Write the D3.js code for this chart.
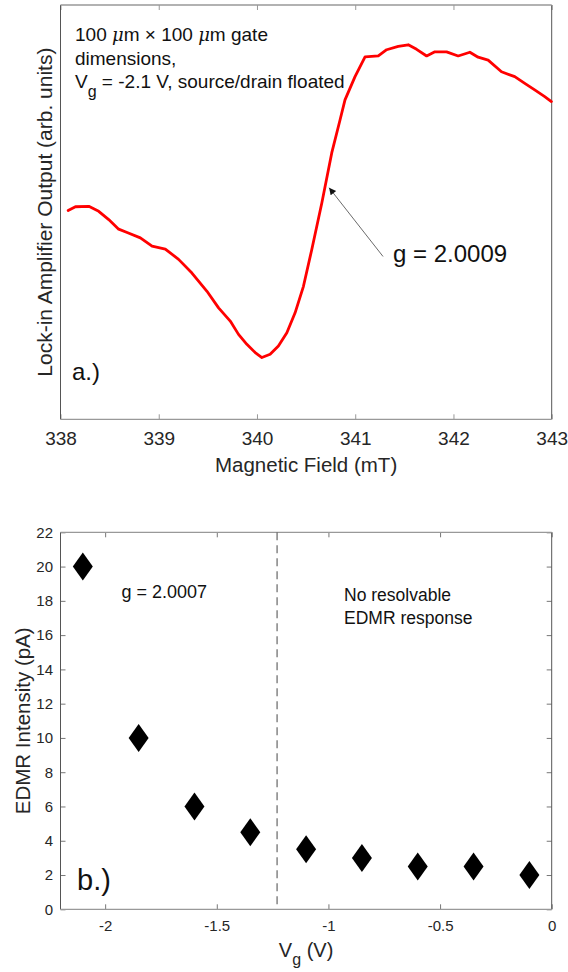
<!DOCTYPE html>
<html>
<head>
<meta charset="utf-8">
<script src="https://cdn.jsdelivr.net/npm/d3@7/dist/d3.min.js"></script>
<style>
  html, body { margin: 0; padding: 0; background: #fff; }
  svg { display: block; font-family: "Liberation Sans", Arial, Helvetica, sans-serif; }
</style>
</head>
<body>
<svg id="chart" width="568" height="972"></svg>
<script>
// ---------- Data: panel a ----------
const fieldMT = [338.078, 338.152, 338.288, 338.389, 338.491, 338.592, 338.678, 338.813, 338.932, 339.067,
  339.202, 339.338, 339.491, 339.609, 339.728, 339.812, 339.897, 339.982, 340.050, 340.134,
  340.218, 340.304, 340.388, 340.473, 340.558, 340.660, 340.761, 340.846, 340.896, 340.998,
  341.100, 341.235, 341.320, 341.438, 341.540, 341.625, 341.727, 341.811, 341.930, 342.048,
  342.167, 342.251, 342.353, 342.489, 342.624, 342.726, 342.827, 342.929, 342.997];
const lockinOut = [50.4, 51.3, 51.4, 50.2, 48.2, 45.9, 45.1, 43.8, 41.8, 41.1,
  38.6, 35.3, 30.9, 26.9, 23.7, 20.5, 18.1, 16.1, 14.9, 15.7,
  17.7, 20.9, 25.7, 32.1, 41.0, 52.2, 64.3, 72.3, 77.1, 82.7,
  87.5, 87.7, 89.2, 90.0, 90.4, 89.3, 87.7, 88.7, 88.7, 87.7,
  88.6, 87.4, 86.7, 83.9, 82.7, 81.1, 79.5, 77.9, 76.7];
const fieldTicks = [338, 339, 340, 341, 342, 343];
const fieldDomain = [338, 343];
const outDomain = [0, 100];
const gLabelA = "g = 2.0009";
const arrowTip = [340.734, 55.9];
const arrowTail = [341.283, 39.3];

// ---------- Data: panel b ----------
const vg = [-2.1, -1.85, -1.6, -1.35, -1.1, -0.85, -0.6, -0.35, -0.1];
const edmr = [20, 10, 6, 4.5, 3.5, 3, 2.5, 2.5, 2];
const vgTicks = [-2, -1.5, -1, -0.5, 0];
const edmrTicks = [0, 2, 4, 6, 8, 10, 12, 14, 16, 18, 20, 22];
const vgDomain = [-2.2, 0];
const edmrDomain = [0, 22];
const vgThreshold = -1.23;

const svg = d3.select("#chart");
svg.append("rect").attr("width", 568).attr("height", 972).attr("fill", "#fff");

function drawBox(g, x0, x1, y0, y1) {
  g.append("line").attr("x1", x0).attr("x2", x0).attr("y1", y0).attr("y2", y1).attr("stroke", "#555").attr("stroke-width", 1);
  g.append("line").attr("x1", x1).attr("x2", x1).attr("y1", y0).attr("y2", y1).attr("stroke", "#555").attr("stroke-width", 1);
  g.append("line").attr("x1", x0).attr("x2", x1).attr("y1", y0).attr("y2", y0).attr("stroke", "#999").attr("stroke-width", 1.3);
  g.append("line").attr("x1", x0).attr("x2", x1).attr("y1", y1).attr("y2", y1).attr("stroke", "#999").attr("stroke-width", 1.3);
}

// ================= Panel a =================
{
  const L = 60.5, R = 551.7, T = 5, B = 419.3;
  const x = d3.scaleLinear().domain(fieldDomain).range([L, R]);
  const y = d3.scaleLinear().domain(outDomain).range([B, T]);
  const g = svg.append("g");

  const ax = g.append("g").attr("transform", `translate(0,${B})`)
    .call(d3.axisBottom(x).tickValues(fieldTicks).tickSizeInner(-5).tickSizeOuter(0).tickPadding(12.5).tickFormat(d => String(d)));
  ax.select(".domain").remove();
  ax.selectAll("line").attr("stroke", "#999");
  ax.selectAll("text").attr("font-size", 19).attr("fill", "#262626").attr("font-family", "Liberation Sans, Arial, sans-serif");
  const axT = g.append("g").attr("transform", `translate(0,${T})`)
    .call(d3.axisTop(x).tickValues(fieldTicks).tickSizeInner(-5).tickSizeOuter(0).tickFormat(""));
  axT.select(".domain").remove();
  axT.selectAll("line").attr("stroke", "#999");

  drawBox(g, L, R, T, B);

  const pts = fieldMT.map((f, i) => [f, lockinOut[i]]);
  g.append("path").datum(pts)
    .attr("fill", "none").attr("stroke", "#ff0000").attr("stroke-width", 2.8)
    .attr("stroke-linejoin", "round").attr("stroke-linecap", "round")
    .attr("d", d3.line().x(d => x(d[0])).y(d => y(d[1])));

  const defs = svg.append("defs");
  defs.append("marker").attr("id", "ah").attr("viewBox", "0 0 10 10").attr("refX", 10).attr("refY", 5)
    .attr("markerWidth", 10).attr("markerHeight", 7).attr("markerUnits", "userSpaceOnUse").attr("orient", "auto")
    .append("path").attr("d", "M0,0 L10,5 L0,10 z").attr("fill", "#111");
  g.append("line")
    .attr("x1", x(arrowTail[0])).attr("y1", y(arrowTail[1]))
    .attr("x2", x(arrowTip[0])).attr("y2", y(arrowTip[1]))
    .attr("stroke", "#444").attr("stroke-width", 0.8).attr("marker-end", "url(#ah)");
  g.append("text").attr("x", 393).attr("y", 262).attr("font-size", 24).attr("fill", "#111").text(gLabelA);

  const t1 = g.append("text").attr("x", 75).attr("y", 41).attr("font-size", 19).attr("fill", "#111");
  t1.append("tspan").text("100 ");
  t1.append("tspan").attr("font-style", "italic").attr("font-family", "DejaVu Serif, Liberation Serif, serif").attr("font-size", 18).text("\u03bc");
  t1.append("tspan").text("m \u00d7 100 ");
  t1.append("tspan").attr("font-style", "italic").attr("font-family", "DejaVu Serif, Liberation Serif, serif").attr("font-size", 18).text("\u03bc");
  t1.append("tspan").text("m gate");
  g.append("text").attr("x", 75).attr("y", 64.5).attr("font-size", 19).attr("fill", "#111").text("dimensions,");
  const t3 = g.append("text").attr("x", 75).attr("y", 88).attr("font-size", 19).attr("fill", "#111");
  t3.append("tspan").text("V");
  t3.append("tspan").attr("dy", 9).attr("font-size", 16).text("g");
  t3.append("tspan").attr("dy", -9).text(" = -2.1 V, source/drain floated");

  g.append("text").attr("x", 72).attr("y", 380).attr("font-size", 24).attr("fill", "#111").text("a.)");

  g.append("text").attr("x", (L + R) / 2).attr("y", 472).attr("text-anchor", "middle")
    .attr("font-size", 20.5).attr("fill", "#262626").text("Magnetic Field (mT)");
  g.append("text").attr("transform", `translate(52,${(T + B) / 2}) rotate(-90)`).attr("text-anchor", "middle")
    .attr("font-size", 21).attr("fill", "#262626").text("Lock-in Amplifier Output (arb. units)");
}

// ================= Panel b =================
{
  const L = 60.5, R = 551.7, T = 532.3, B = 909.3;
  const x = d3.scaleLinear().domain(vgDomain).range([L, R]);
  const y = d3.scaleLinear().domain(edmrDomain).range([B, T]);
  const g = svg.append("g");

  const ax = g.append("g").attr("transform", `translate(0,${B})`)
    .call(d3.axisBottom(x).tickValues(vgTicks).tickSizeInner(-5).tickSizeOuter(0).tickPadding(11.5).tickFormat(d => String(d)));
  ax.select(".domain").remove();
  ax.selectAll("line").attr("stroke", "#777");
  ax.selectAll("text").attr("font-size", 15).attr("fill", "#262626").attr("font-family", "Liberation Sans, Arial, sans-serif");
  const axT = g.append("g").attr("transform", `translate(0,${T})`)
    .call(d3.axisTop(x).tickValues(vgTicks).tickSizeInner(-5).tickSizeOuter(0).tickFormat(""));
  axT.select(".domain").remove();
  axT.selectAll("line").attr("stroke", "#777");

  const ay = g.append("g").attr("transform", `translate(${L},0)`)
    .call(d3.axisLeft(y).tickValues(edmrTicks).tickSizeInner(-5).tickSizeOuter(0).tickPadding(7.5).tickFormat(d => String(d)));
  ay.select(".domain").remove();
  ay.selectAll("line").attr("stroke", "#777");
  ay.selectAll("text").attr("font-size", 15).attr("fill", "#262626").attr("font-family", "Liberation Sans, Arial, sans-serif");
  const ayR = g.append("g").attr("transform", `translate(${R},0)`)
    .call(d3.axisRight(y).tickValues(edmrTicks).tickSizeInner(-5).tickSizeOuter(0).tickFormat(""));
  ayR.select(".domain").remove();
  ayR.selectAll("line").attr("stroke", "#777");

  drawBox(g, L, R, T, B);

  g.append("line").attr("x1", x(vgThreshold)).attr("x2", x(vgThreshold)).attr("y1", T).attr("y2", B)
    .attr("stroke", "#666").attr("stroke-width", 1.2).attr("stroke-dasharray", "8,5");

  const hw = 10, hh = 14;
  g.selectAll("path.dm").data(vg.map((v, i) => [v, edmr[i]])).join("path").attr("class", "dm")
    .attr("transform", d => `translate(${x(d[0])},${y(d[1])})`)
    .attr("d", `M0,${-hh} L${hw},0 L0,${hh} L${-hw},0 Z`)
    .attr("fill", "#000");

  g.append("text").attr("x", 121.5).attr("y", 598).attr("font-size", 18).attr("fill", "#111").text("g = 2.0007");
  g.append("text").attr("x", 344).attr("y", 601).attr("font-size", 17.5).attr("fill", "#111").text("No resolvable");
  g.append("text").attr("x", 344).attr("y", 624).attr("font-size", 17.5).attr("fill", "#111").text("EDMR response");
  g.append("text").attr("x", 77).attr("y", 890).attr("font-size", 29).attr("fill", "#111").text("b.)");

  const xl = g.append("text").attr("x", (L + R) / 2).attr("y", 957).attr("text-anchor", "middle")
    .attr("font-size", 20).attr("fill", "#262626");
  xl.append("tspan").text("V");
  xl.append("tspan").attr("dy", 8).attr("font-size", 16).text("g");
  xl.append("tspan").attr("dy", -8).text(" (V)");
  g.append("text").attr("transform", `translate(30,${(T + B) / 2}) rotate(-90)`).attr("text-anchor", "middle")
    .attr("font-size", 20.5).attr("fill", "#262626").text("EDMR Intensity (pA)");
}
</script>
</body>
</html>
